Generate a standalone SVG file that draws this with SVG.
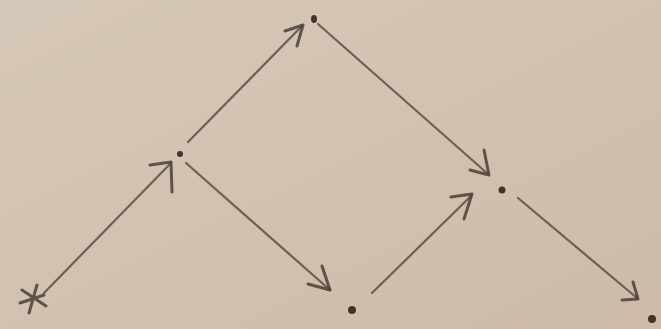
<svg xmlns="http://www.w3.org/2000/svg" width="661" height="329" viewBox="0 0 661 329">
<style>
.ln{fill:none;stroke:#5a4f45;stroke-width:2.2;stroke-linecap:round;stroke-linejoin:round;opacity:0.85}
.hd{fill:none;stroke:#4a4038;stroke-width:3;stroke-linecap:round;stroke-linejoin:round;opacity:0.85}
.dot{fill:#3e352e}
</style>
<defs>
<linearGradient id="bg" x1="0" y1="0" x2="1" y2="1">
<stop offset="0" stop-color="#d6c8b8"/>
<stop offset="1" stop-color="#cdbba8"/>
</linearGradient>
</defs>
<rect width="661" height="329" fill="url(#bg)"/>
<g id="connectors">
<g id="e1"><path class="ln" d="M44,293 L171,163"/><path class="hd" d="M150,165 L171,162 L172,192"/></g>
<g id="e2"><path class="ln" d="M188,142 L302,26"/><path class="hd" d="M285,31 L303,25 L297,46"/></g>
<g id="e3"><path class="ln" d="M318,24 L488,174"/><path class="hd" d="M484,150 L489,175 L470,170"/></g>
<g id="e4"><path class="ln" d="M186,163 L330,290"/><path class="hd" d="M322,266 L330,290 L308,284"/></g>
<g id="e5"><path class="ln" d="M372,293 L471,196"/><path class="hd" d="M451,197 L472,194 L464,219"/></g>
<g id="e6"><path class="ln" d="M518,198 L637,298"/><path class="hd" d="M633,282 L638,299 L622,300"/></g>
</g>
<g id="n0"><path class="hd" d="M22,290 L46,306 M37,285 L29,313 M20,303 L44,295"/></g>
<g id="n1"><circle class="dot" cx="180" cy="154" r="3"/></g>
<g id="n2"><ellipse class="dot" cx="314" cy="19" rx="3" ry="4"/></g>
<g id="n3"><circle class="dot" cx="352" cy="310" r="4"/></g>
<g id="n4"><circle class="dot" cx="502" cy="190" r="3.5"/></g>
<g id="n5"><circle class="dot" cx="652" cy="319" r="4"/></g>
</svg>
